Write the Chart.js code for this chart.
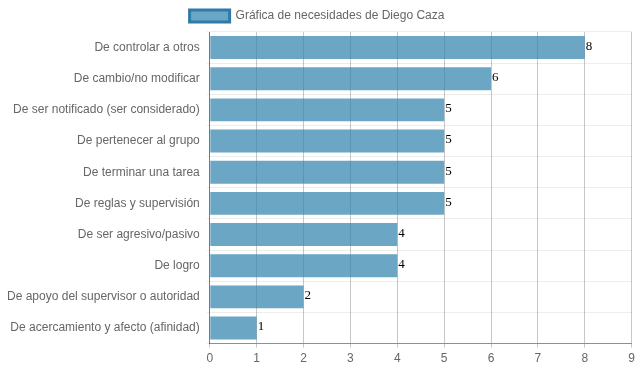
<!DOCTYPE html>
<html>
<head>
<meta charset="utf-8">
<script src="https://cdn.jsdelivr.net/npm/chart.js@4"></script>
<style>
html,body{margin:0;padding:0;background:#fff;}
#wrap{width:639px;height:372px;position:relative;}
</style>
</head>
<body>
<div id="wrap"><canvas id="c"></canvas></div>
<script>
const categories = [
  "De controlar a otros",
  "De cambio/no modificar",
  "De ser notificado (ser considerado)",
  "De pertenecer al grupo",
  "De terminar una tarea",
  "De reglas y supervisión",
  "De ser agresivo/pasivo",
  "De logro",
  "De apoyo del supervisor o autoridad",
  "De acercamiento y afecto (afinidad)"
];
const values = [8, 6, 5, 5, 5, 5, 4, 4, 2, 1];
const seriesLabel = "Gráfica de necesidades de Diego Caza";
const xTicks = [0,1,2,3,4,5,6,7,8,9];

Chart.defaults.font.family = "'Liberation Sans', Arial, sans-serif";
Chart.defaults.font.size = 12;
Chart.defaults.color = "#666";

const valueLabels = {
  id: 'valueLabels',
  afterDatasetsDraw(chart) {
    const ctx = chart.ctx;
    ctx.save();
    ctx.font = "13px 'Liberation Serif', 'Times New Roman', serif";
    ctx.fillStyle = "#000";
    ctx.textAlign = "left";
    ctx.textBaseline = "middle";
    chart.getDatasetMeta(0).data.forEach((bar, i) => {
      ctx.fillText(String(values[i]), bar.x + 1, bar.y - 1);
    });
    ctx.restore();
  }
};

new Chart(document.getElementById('c'), {
  type: 'bar',
  data: {
    labels: categories,
    datasets: [{
      label: seriesLabel,
      data: values,
      backgroundColor: 'rgba(44,129,172,0.7)',
      borderWidth: 0,
      categoryPercentage: 0.8,
      barPercentage: 0.92
    }]
  },
  options: {
    indexAxis: 'y',
    responsive: true,
    maintainAspectRatio: false,
    animation: false,
    layout: { padding: { left: 0, right: 5, top: 0, bottom: 2 } },
    plugins: {
      legend: {
        labels: {
          boxWidth: 40,
          boxHeight: 12,
          padding: 10,
          color: '#666',
          generateLabels(chart) {
            return [{
              text: seriesLabel,
              fillStyle: 'rgba(44,129,172,0.7)',
              strokeStyle: '#2f7aa8',
              lineWidth: 3,
              hidden: false,
              datasetIndex: 0,
              fontColor: '#666'
            }];
          }
        }
      },
      tooltip: { enabled: false }
    },
    scales: {
      x: {
        min: 0,
        max: 9,
        afterBuildTicks(scale) { scale.ticks = xTicks.map(v => ({ value: v })); },
        grid: { color: 'rgba(0,0,0,0.22)', tickLength: 4 },
        border: { color: 'rgba(0,0,0,0.4)' },
        ticks: { color: '#666', padding: 4 }
      },
      y: {
        grid: { color: 'rgba(0,0,0,0.07)', tickLength: 3, offset: true },
        border: { color: 'rgba(0,0,0,0.4)' },
        ticks: { color: '#666', padding: 7 }
      }
    }
  },
  plugins: [valueLabels]
});
</script>
</body>
</html>
